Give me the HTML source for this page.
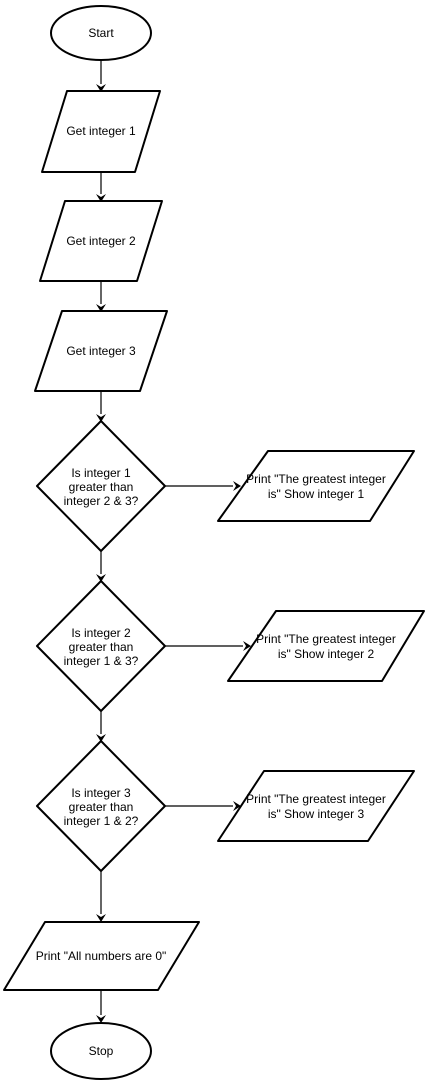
<!DOCTYPE html>
<html><head><meta charset="utf-8"><style>
html,body{margin:0;padding:0;background:#fff;}
svg{display:block;}
text{font-family:"Liberation Sans",Arial,sans-serif;font-size:12px;fill:#000;text-anchor:middle;}
.s{fill:#fff;stroke:#000;stroke-width:2;stroke-linejoin:round;}
.l{stroke:#000;stroke-width:1.2;fill:none;}
.a{fill:#000;}
</style></head><body>
<svg width="427" height="1082" viewBox="0 0 427 1082">
<g><ellipse class="s" cx="101" cy="33" rx="50" ry="27"/><text x="101" y="37">Start</text></g>
<g><line class="l" x1="101" y1="60" x2="101" y2="84"/><path class="a" d="M96,84 L101,92 L106,84 L101,87 Z"/></g>

<g><path class="s" d="M67,91 L160,91 L135,172 L42,172 Z"/><text x="101" y="135">Get integer 1</text></g>
<g><line class="l" x1="101" y1="172" x2="101" y2="194"/><path class="a" d="M96,194 L101,202 L106,194 L101,197 Z"/></g>

<g><path class="s" d="M65,201 L162,201 L137,281 L40,281 Z"/><text x="101" y="245">Get integer 2</text></g>
<g><line class="l" x1="101" y1="281" x2="101" y2="304"/><path class="a" d="M96,304 L101,312 L106,304 L101,307 Z"/></g>

<g><path class="s" d="M62,311 L167,311 L140,391 L35,391 Z"/><text x="101" y="355">Get integer 3</text></g>
<g><line class="l" x1="101" y1="391" x2="101" y2="414"/><path class="a" d="M96,414 L101,422 L106,414 L101,417 Z"/></g>

<g><path class="s" d="M101,421 L165,486 L101,551 L37,486 Z"/><text x="101" y="477">Is integer 1</text><text x="101" y="491">greater than</text><text x="101" y="505">integer 2 &amp; 3?</text></g>
<g><line class="l" x1="165" y1="486" x2="233" y2="486"/><path class="a" d="M233,481 L241,486 L233,491 L236,486 Z"/></g>
<g><path class="s" d="M268,451 L414,451 L370,521 L218,521 Z"/><text x="316" y="483">Print "The greatest integer</text><text x="316" y="498">is" Show integer 1</text></g>
<g><line class="l" x1="101" y1="551" x2="101" y2="574"/><path class="a" d="M96,574 L101,582 L106,574 L101,577 Z"/></g>

<g><path class="s" d="M101,581 L165,646 L101,711 L37,646 Z"/><text x="101" y="637">Is integer 2</text><text x="101" y="651">greater than</text><text x="101" y="665">integer 1 &amp; 3?</text></g>
<g><line class="l" x1="165" y1="646" x2="243" y2="646"/><path class="a" d="M243,641 L251,646 L243,651 L246,646 Z"/></g>
<g><path class="s" d="M276,611 L424,611 L382,681 L228,681 Z"/><text x="326" y="643">Print "The greatest integer</text><text x="326" y="658">is" Show integer 2</text></g>
<g><line class="l" x1="101" y1="711" x2="101" y2="734"/><path class="a" d="M96,734 L101,742 L106,734 L101,737 Z"/></g>

<g><path class="s" d="M101,741 L165,806 L101,871 L37,806 Z"/><text x="101" y="797">Is integer 3</text><text x="101" y="811">greater than</text><text x="101" y="825">integer 1 &amp; 2?</text></g>
<g><line class="l" x1="165" y1="806" x2="233" y2="806"/><path class="a" d="M233,801 L241,806 L233,811 L236,806 Z"/></g>
<g><path class="s" d="M264,771 L414,771 L368,841 L218,841 Z"/><text x="316" y="803">Print "The greatest integer</text><text x="316" y="818">is" Show integer 3</text></g>
<g><line class="l" x1="101" y1="871" x2="101" y2="914"/><path class="a" d="M96,914 L101,922 L106,914 L101,917 Z"/></g>

<g><path class="s" d="M45,922 L199,922 L158,990 L4,990 Z"/><text x="101" y="960">Print "All numbers are 0"</text></g>
<g><line class="l" x1="101" y1="990" x2="101" y2="1015"/><path class="a" d="M96,1015 L101,1023 L106,1015 L101,1018 Z"/></g>

<g><ellipse class="s" cx="101" cy="1051" rx="50" ry="28"/><text x="101" y="1055">Stop</text></g>
</svg>
</body></html>
